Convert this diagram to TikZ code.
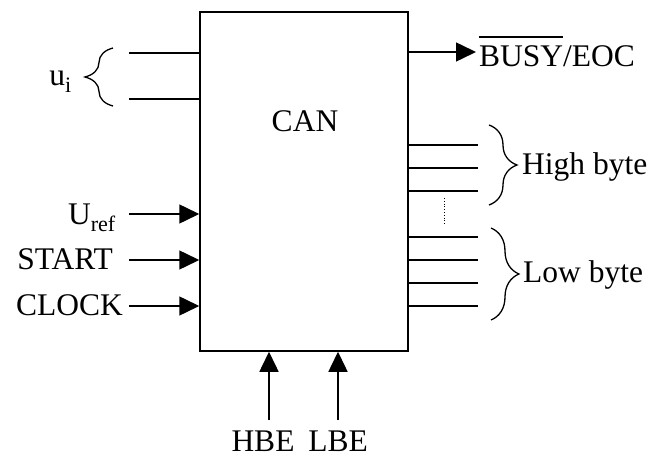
\documentclass[tikz,border=0pt]{standalone}
\usepackage{fontspec}
\setmainfont{Liberation Serif}
\usetikzlibrary{arrows.meta,decorations.pathreplacing}
\newcommand{\myovl}[1]{\leavevmode\setbox0\hbox{#1}\rlap{\rule[0.93em]{\wd0}{1.3pt}}\box0}
\begin{document}
\begin{tikzpicture}[x=1pt,y=-1pt,
  ln/.style={line width=1.5pt},
  arr/.style={line width=1.5pt,-{Triangle[length=20pt,width=19pt]}},
  lbl/.style={font=\fontsize{31.5}{38}\selectfont, inner sep=0pt},
  brc/.style={line width=1.3pt, decorate, decoration={brace, amplitude=28pt}},
  dots/.style={line width=0.8pt, dotted}]
\useasboundingbox (0,0) rectangle (651,457);
\node[draw, ln, minimum width=208pt, minimum height=339pt, inner sep=0pt] (can) at (304,181.5) {};
\node[lbl, anchor=base] (canl) at (305,132) {CAN};
% u_i inputs
\coordinate (ui1) at (129,53);
\coordinate (ui2) at (129,99);
\draw[ln] (ui1) -- (ui1 -| can.west);
\draw[ln] (ui2) -- (ui2 -| can.west);
\coordinate (uib1) at (113,106);
\coordinate (uib2) at (113,48);
\draw[brc] (uib1) -- (uib2);
\node[lbl, anchor=base east] (ui) at (72,86) {u\textsubscript{i}};
% arrow inputs
\node[lbl, anchor=base east] (uref) at (116,225) {U\textsubscript{ref}};
\node[lbl, anchor=base east] (start) at (113,270) {START};
\node[lbl, anchor=base east] (clock) at (123,316) {CLOCK};
\coordinate (urefs) at (129,214);
\coordinate (starts) at (129,260);
\coordinate (clocks) at (129,306);
\draw[arr] (urefs) -- (urefs -| can.west);
\draw[arr] (starts) -- (starts -| can.west);
\draw[arr] (clocks) -- (clocks -| can.west);
% busy output
\coordinate (busyt) at (476,52);
\draw[arr] (busyt -| can.east) -- (busyt);
\node[lbl, anchor=base west] (busy) at (479,67) {\myovl{BUSY}/EOC};
% high byte
\foreach \y/\n in {145/h1,168/h2,191/h3,237/l1,260/l2,283/l3,306/l4}{
  \coordinate (\n) at (478,\y);
  \draw[ln] (\n -| can.east) -- (\n);
}
\coordinate (d1) at (444,198);
\coordinate (d2) at (444,225);
\draw[dots] (d1) -- (d2);
\coordinate (hb1) at (489,125);
\coordinate (hb2) at (489,205);
\draw[brc] (hb1) -- (hb2);
\coordinate (lb1) at (491,228);
\coordinate (lb2) at (491,320);
\draw[brc] (lb1) -- (lb2);
\node[lbl, anchor=base west] (high) at (522,175) {High byte};
\node[lbl, anchor=base west] (low) at (523,283) {Low byte};
% bottom
\coordinate (hbes) at (269,420);
\coordinate (lbes) at (338,420);
\draw[arr] (hbes) -- (hbes |- can.south);
\draw[arr] (lbes) -- (lbes |- can.south);
\node[lbl, anchor=base] (hbe) at (263,451) {HBE};
\node[lbl, anchor=base] (lbe) at (338,451) {LBE};
\end{tikzpicture}
\end{document}
